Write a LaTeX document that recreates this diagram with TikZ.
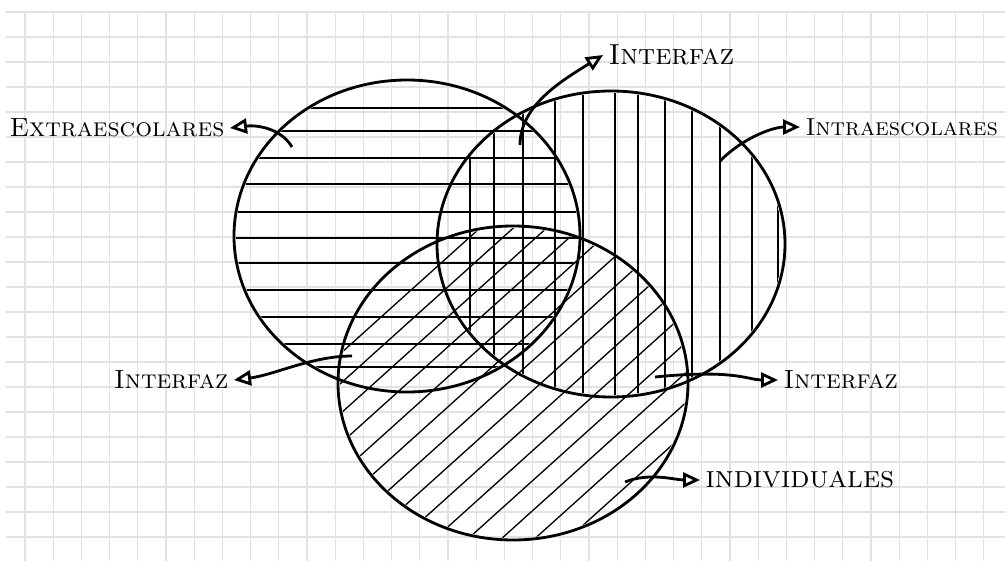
\documentclass[tikz,border=0pt]{standalone}
\usetikzlibrary{arrows.meta}
\definecolor{cinzagrade}{RGB}{226,226,226}
\tikzset{
  conjunto/.style={line width=1.6pt},
  hachura/.style={line width=0.75pt},
  grade/.style={cinzagrade, line width=0.6pt},
  seta/.style={line width=1.6pt, -{Triangle[open, length=3.4mm, width=3mm]}},
  rotulo/.style={font=\fontsize{15}{18}\selectfont\scshape, inner sep=3pt}
}
\begin{document}
\begin{tikzpicture}[x=0.02cm, y=-0.02cm]
			\useasboundingbox (0,0) rectangle (1005,561);
			
			% Papel quadriculado
			\foreach \gx in {25,53.2,...,1005} \draw[grade] (\gx,12) -- (\gx,561);
			\foreach \gy in {12,37,...,561} \draw[grade] (6,\gy) -- (1005,\gy);
			
			% Hachuras horizontais do conjunto da esquerda
			\begin{scope}
				\clip (407,236) ellipse (171 and 154);
				\foreach \hy in {108,131,158,184,212,238,263,290,317,344,367}
					\draw[hachura] (230,\hy) -- (585,\hy);
			\end{scope}
			
			% Hachuras verticais do conjunto da direita
			\begin{scope}
				\clip (611,244) ellipse (172 and 151);
				\foreach \hx in {470,494,523,555,583,615,638,665,692,720,752,778}
					\draw[hachura] (\hx,85) -- (\hx,400);
			\end{scope}
			
			% Hachuras diagonais do conjunto de baixo
			\begin{scope}
				\clip (513,383) ellipse (173 and 155);
				\foreach \c in {660,690,...,1120}
					\draw[hachura] (300,{\c-270}) -- (720,{\c-648});
			\end{scope}
			
			% Curvas fechadas dos tres conjuntos
			\draw[conjunto] (407,236) ellipse (173 and 156);
			\draw[conjunto] (611,244) ellipse (174 and 153);
			\draw[conjunto] (513,383) ellipse (175 and 157);
			
			% Pontos de partida das setas
			\coordinate (pExtra) at (292,147);
			\coordinate (pInterA) at (520,145);
			\coordinate (pIntra) at (720,161);
			\coordinate (pInterB) at (352,356);
			\coordinate (pInterC) at (655,377);
			\coordinate (pIndiv) at (625,482);
			
			% Rotulos
			\node[rotulo, anchor=east] (lExtra) at (230,128) {Extraescolares};
			\node[rotulo, anchor=west, font=\fontsize{16.5}{19}\selectfont\scshape] (lInterA) at (603,55) {Interfaz};
			\node[rotulo, anchor=west, font=\fontsize{14}{17}\selectfont\scshape] (lIntra) at (800,127) {Intraescolares};
			\node[rotulo, anchor=east] (lInterB) at (234,380) {Interfaz};
			\node[rotulo, anchor=west] (lInterC) at (778,380) {Interfaz};
			\node[rotulo, anchor=west, font=\fontsize{17.5}{20}\selectfont\scshape] (lIndiv) at (700,480) {individuales};
			
			% Setas
			\draw[seta] (pExtra) .. controls +(-12,-20) and +(25,-3) .. (lExtra.east);
			\draw[seta] (pInterA) .. controls +(0,-40) and +(-40,25) .. (lInterA.west);
			\draw[seta] (pIntra) .. controls +(25,-25) and +(-25,0) .. (lIntra.west);
			\draw[seta] (pInterB) .. controls +(-40,0) and +(40,-5) .. (lInterB.east);
			\draw[seta] (pInterC) .. controls +(80,-8) and +(-30,0) .. (lInterC.west);
			\draw[seta] (pIndiv) .. controls +(25,-10) and +(-25,0) .. (lIndiv.west);
		\end{tikzpicture}
\end{document}
